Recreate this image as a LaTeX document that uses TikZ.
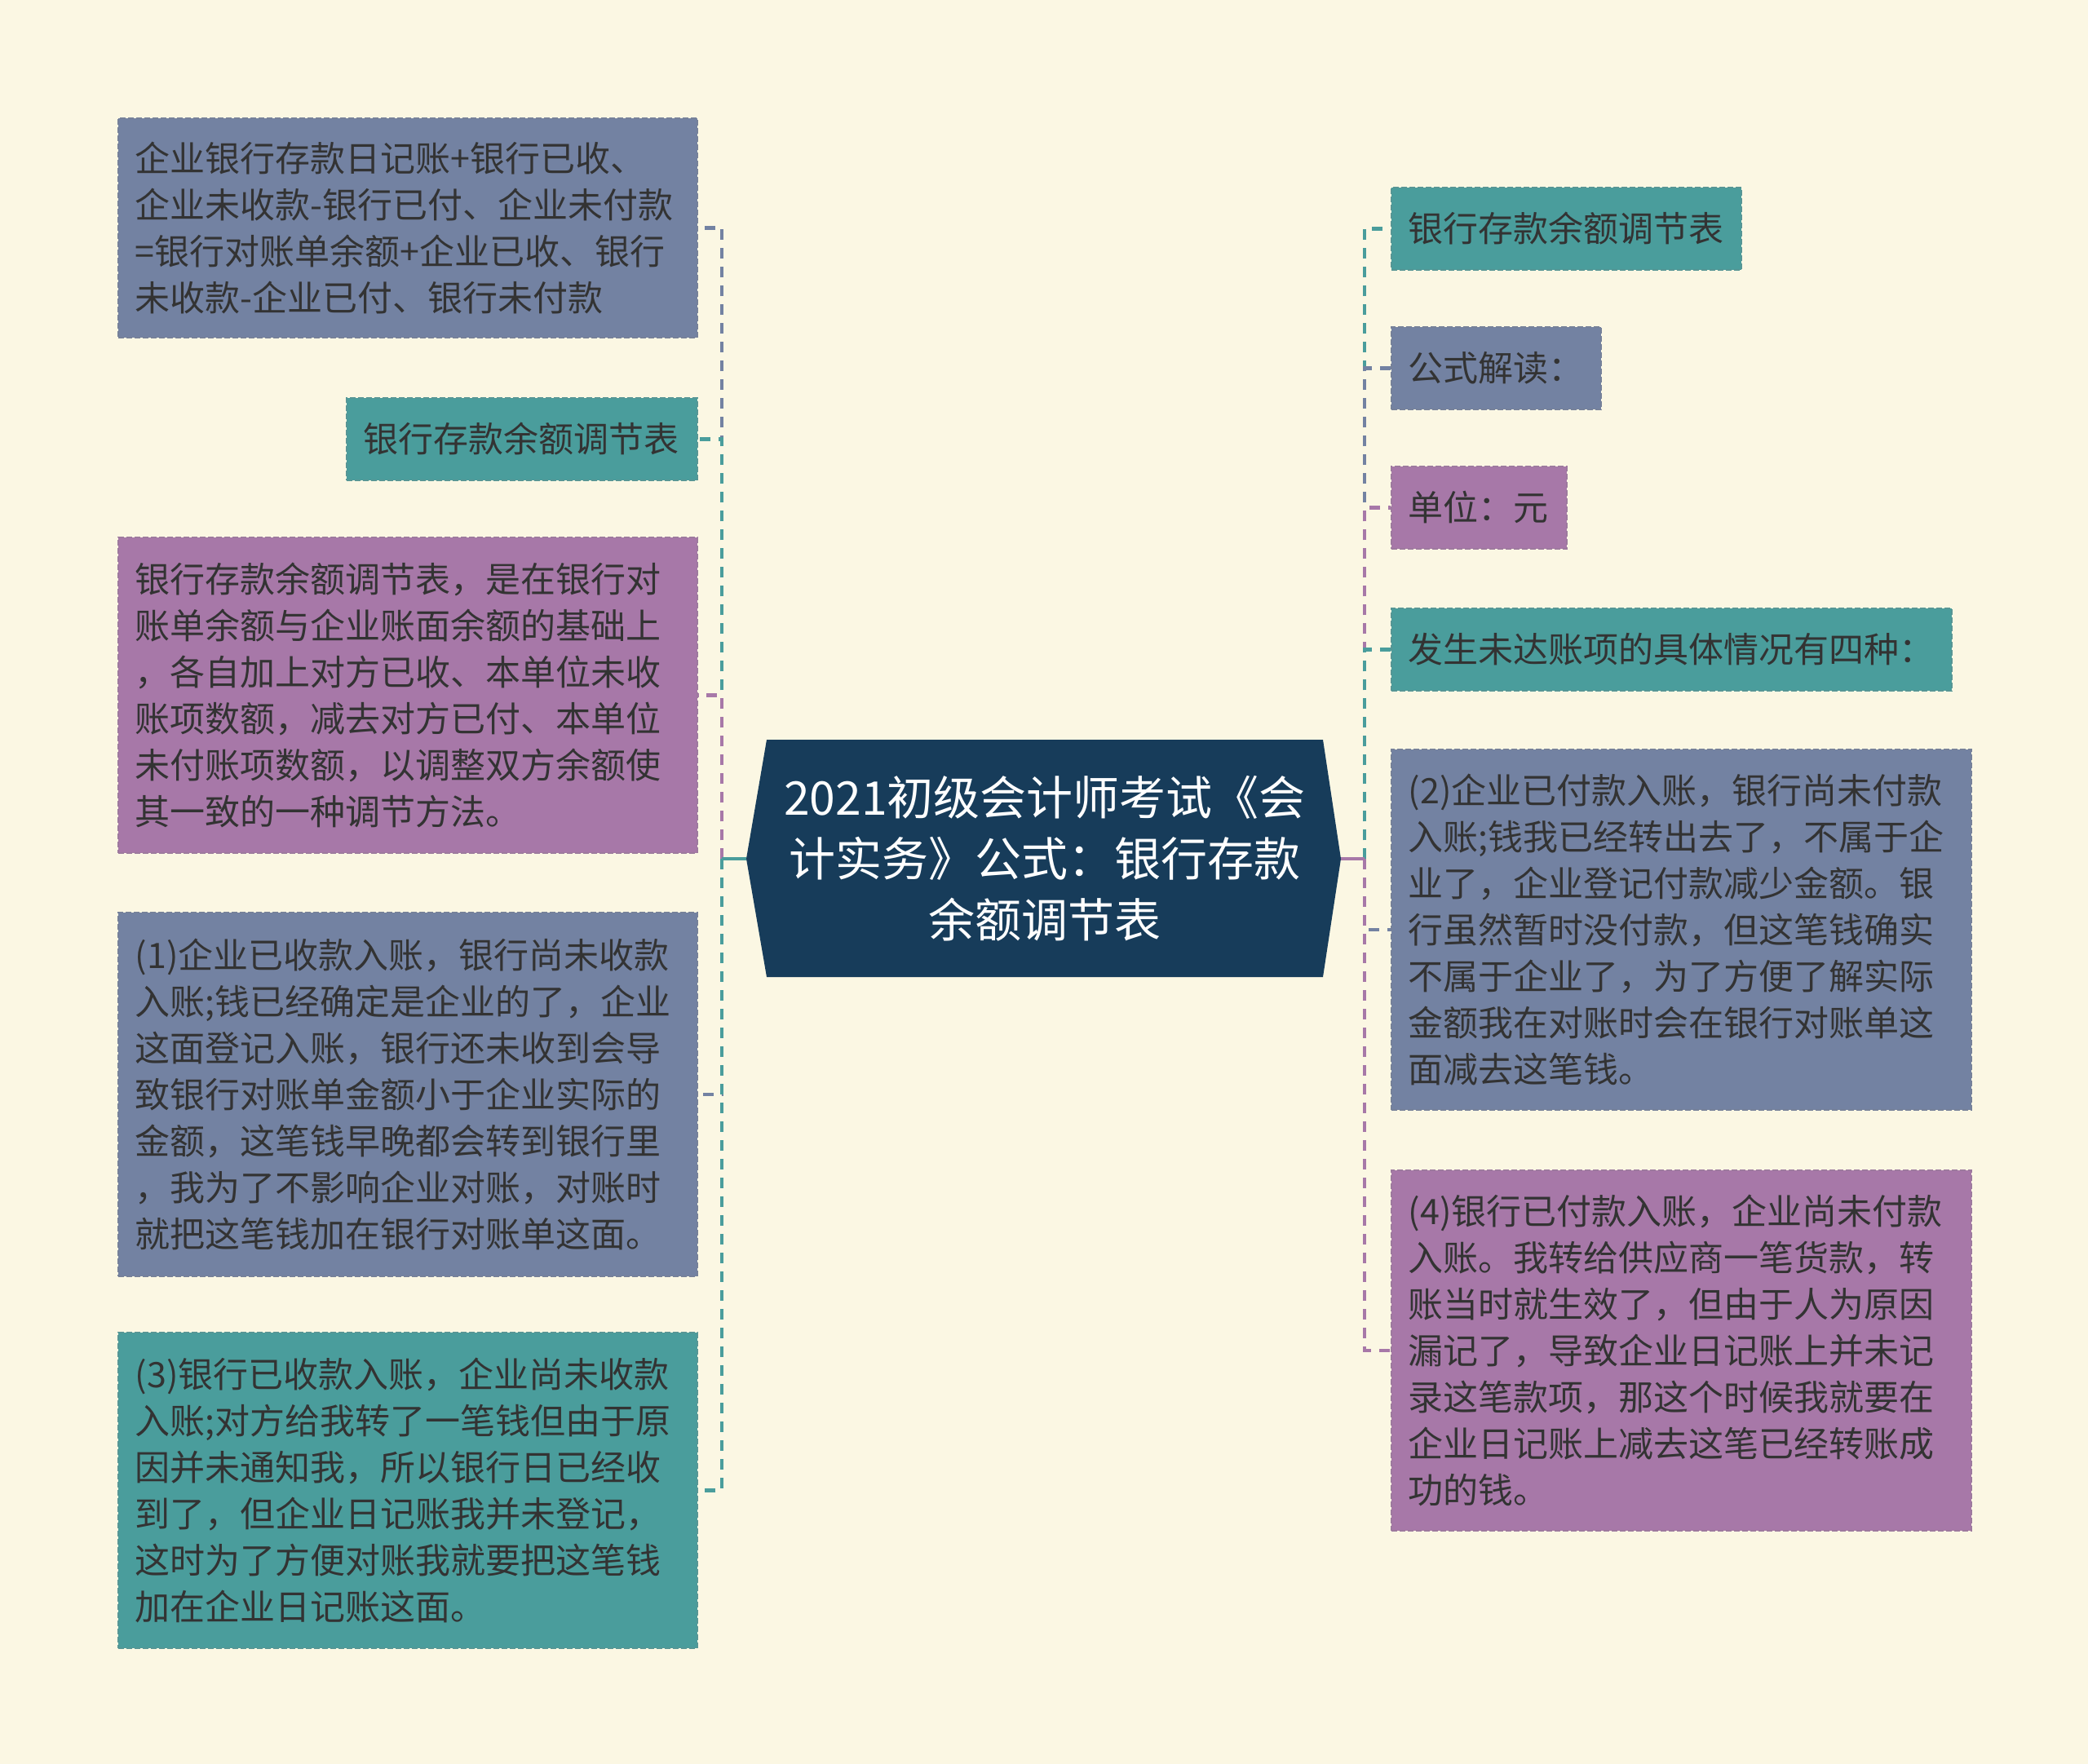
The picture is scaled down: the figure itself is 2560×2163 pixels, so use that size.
\documentclass[tikz,border=0pt]{standalone}
\usepackage{fontspec}
\setmainfont{Noto Sans CJK SC}
\definecolor{bgc}{HTML}{FBF7E3}
\definecolor{slate}{HTML}{7382A2}
\definecolor{tealc}{HTML}{4A9D9C}
\definecolor{purp}{HTML}{A778A8}
\definecolor{navy}{HTML}{173C5A}
\definecolor{txt}{HTML}{333333}
\begin{document}
\begin{tikzpicture}[x=0.5pt,y=-0.5pt,
  box/.style={draw=#1!75!gray, fill=#1, dash pattern=on 3.5pt off 1.5pt, line width=0.8pt,
    anchor=north west, inner xsep=10.5pt, inner ysep=0pt, align=left, text=txt,
    font=\fontsize{21.5}{28.5}\selectfont},
  conn/.style={draw=#1, line width=2.2pt, dash pattern=on 6.5pt off 5pt},
  stem/.style={draw=#1, line width=2.2pt}]
\fill[bgc] (0,0) rectangle (2560,2163);
\useasboundingbox (0,0) rectangle (2560,2163);

% centre
\fill[navy] (940,907) -- (1622,907) -- (1644,1053) -- (1622,1198) -- (940,1198) -- (915,1053) -- cycle;
\node (c) at (1281,1053) [align=center, text=white, font=\fontsize{28.5}{37.5}\selectfont]
  {2021初级会计师考试《会\\计实务》公式：银行存款\\余额调节表};
\coordinate (cL) at (915,1053);
\coordinate (cR) at (1644,1053);
\coordinate (jL) at (885,1053);
\coordinate (jR) at (1673,1053);

% left boxes
\node (L1) at (144,144) [box=slate, minimum width=355pt, minimum height=134.5pt, text width=334pt]
  {企业银行存款日记账+银行已收、\\企业未收款-银行已付、企业未付款\\=银行对账单余额+企业已收、银行\\未收款-企业已付、银行未付款};
\node (L2) at (424,487) [box=tealc, minimum width=215pt, minimum height=50.5pt, text width=194pt]
  {银行存款余额调节表};
\node (L3) at (144,658) [box=purp, minimum width=355pt, minimum height=193.5pt, text width=334pt]
  {银行存款余额调节表，是在银行对\\账单余额与企业账面余额的基础上\\，各自加上对方已收、本单位未收\\账项数额，减去对方已付、本单位\\未付账项数额，以调整双方余额使\\其一致的一种调节方法。};
\node (L4) at (144,1118) [box=slate, minimum width=355pt, minimum height=223pt, text width=334pt]
  {(1)企业已收款入账，银行尚未收款\\入账;钱已经确定是企业的了，企业\\这面登记入账，银行还未收到会导\\致银行对账单金额小于企业实际的\\金额，这笔钱早晚都会转到银行里\\，我为了不影响企业对账，对账时\\就把这笔钱加在银行对账单这面。};
\node (L5) at (144,1633) [box=tealc, minimum width=355pt, minimum height=193.5pt, text width=334pt]
  {(3)银行已收款入账，企业尚未收款\\入账;对方给我转了一笔钱但由于原\\因并未通知我，所以银行日已经收\\到了，但企业日记账我并未登记，\\这时为了方便对账我就要把这笔钱\\加在企业日记账这面。};

% right boxes
\node (R1) at (1705,229) [box=tealc, minimum width=214.5pt, minimum height=50.5pt, text width=193.5pt]
  {银行存款余额调节表};
\node (R2) at (1705,400) [box=slate, minimum width=128.5pt, minimum height=50.5pt, text width=107.5pt]
  {公式解读：};
\node (R3) at (1705,571) [box=purp, minimum width=107.5pt, minimum height=50.5pt, text width=86.5pt]
  {单位：元};
\node (R4) at (1705,745) [box=tealc, minimum width=343.5pt, minimum height=50.5pt, text width=322.5pt]
  {发生未达账项的具体情况有四种：};
\node (R5) at (1705,918) [box=slate, minimum width=355.5pt, minimum height=221pt, text width=334.5pt]
  {(2)企业已付款入账，银行尚未付款\\入账;钱我已经转出去了，不属于企\\业了，企业登记付款减少金额。银\\行虽然暂时没付款，但这笔钱确实\\不属于企业了，为了方便了解实际\\金额我在对账时会在银行对账单这\\面减去这笔钱。};
\node (R6) at (1705,1434) [box=purp, minimum width=355.5pt, minimum height=221pt, text width=334.5pt]
  {(4)银行已付款入账，企业尚未付款\\入账。我转给供应商一笔货款，转\\账当时就生效了，但由于人为原因\\漏记了，导致企业日记账上并未记\\录这笔款项，那这个时候我就要在\\企业日记账上减去这笔已经转账成\\功的钱。};

% connectors left
\draw[conn=slate] (jL) |- (L1.east);
\draw[conn=tealc] (jL) |- (L2.east);
\draw[conn=purp] (jL) |- (L3.east);
\draw[conn=slate] (jL) |- (L4.east);
\draw[conn=tealc] (jL) |- (L5.east);
\draw[stem=tealc] (cL) -- (jL);
% connectors right
\draw[conn=tealc] (jR) |- (R1.west);
\draw[conn=slate] (jR) |- (R2.west);
\draw[conn=purp] (jR) |- (R3.west);
\draw[conn=tealc] (jR) |- (R4.west);
\draw[conn=slate] (jR) |- (R5.west);
\draw[conn=purp] (jR) |- (R6.west);
\draw[stem=purp] (cR) -- (jR);
\end{tikzpicture}
\end{document}
